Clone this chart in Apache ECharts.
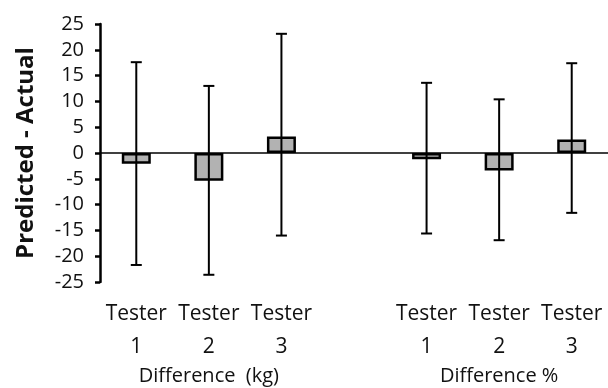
<!DOCTYPE html>
<html><head><meta charset="utf-8">
<script src="https://cdn.jsdelivr.net/npm/echarts@6/dist/echarts.min.js"></script>
<style>html,body{margin:0;padding:0;background:#fff}#c{width:608px;height:388px}</style>
</head><body><div id="c"></div>
<script>
var categories = ['Tester\n1','Tester\n2','Tester\n3','','Tester\n1','Tester\n2','Tester\n3'];
var groupLabels = ['','Difference  (kg)','','','','Difference %',''];
var means = [-2.1, -5.4, 3.2, null, -1.2, -3.4, 2.6];
var errLow = [-21.7, -23.6, -16.0, null, -15.6, -16.9, -11.6];
var errHigh = [17.6, 13.0, 23.1, null, 13.6, 10.4, 17.4];
var yTicks = {min: -25, max: 25, interval: 5};

var F = '"Open Sans", Lato, sans-serif';
var chart = echarts.init(document.getElementById('c'));
var errData = [];
for (var i = 0; i < categories.length; i++) {
  if (errLow[i] != null) errData.push([i, errLow[i], errHigh[i]]);
}
chart.setOption({
  animation: false,
  grid: {left: 100, right: 0, top: 24, bottom: 106},
  xAxis: [{
    type: 'category', data: categories, position: 'bottom',
    axisLine: {show: false}, axisTick: {show: false},
    axisLabel: {color: '#111', fontFamily: F, fontSize: 21, lineHeight: 33, margin: 16, interval: 0}
  }, {
    type: 'category', data: groupLabels, position: 'bottom', offset: 76,
    axisLine: {show: false}, axisTick: {show: false},
    axisLabel: {color: '#111', fontFamily: F, fontSize: 20, lineHeight: 20, interval: 0}
  }],
  yAxis: {
    type: 'value', min: yTicks.min, max: yTicks.max, interval: yTicks.interval,
    name: 'Predicted - Actual', nameLocation: 'middle', nameGap: 62,
    nameTextStyle: {color: '#111', fontFamily: F, fontSize: 24, fontWeight: 'bold'},
    axisLine: {show: true, lineStyle: {color: '#000', width: 2.5}},
    axisTick: {show: true, length: 5, lineStyle: {color: '#000', width: 2.5}},
    splitLine: {show: false},
    axisLabel: {color: '#111', fontFamily: F, fontSize: 20, margin: 16}
  },
  series: [{
    type: 'bar', data: means, barWidth: 29,
    itemStyle: {color: '#b2b2b2', borderColor: '#000', borderWidth: 2.5},
    markLine: {
      silent: true, symbol: ['none','none'], label: {show: false},
      lineStyle: {color: '#000', width: 1.5, type: 'solid'},
      data: [{yAxis: 0}]
    }
  }, {
    type: 'custom', data: errData, z: 5,
    renderItem: function (params, api) {
      var x = api.value(0);
      var lo = api.coord([x, api.value(1)]);
      var hi = api.coord([x, api.value(2)]);
      var w = 5.5;
      var st = {stroke: '#000', lineWidth: 2};
      return {type: 'group', children: [
        {type: 'line', shape: {x1: lo[0], y1: lo[1], x2: hi[0], y2: hi[1]}, style: st},
        {type: 'line', shape: {x1: lo[0]-w, y1: lo[1], x2: lo[0]+w, y2: lo[1]}, style: st},
        {type: 'line', shape: {x1: hi[0]-w, y1: hi[1], x2: hi[0]+w, y2: hi[1]}, style: st}
      ]};
    }
  }]
});
</script></body></html>
